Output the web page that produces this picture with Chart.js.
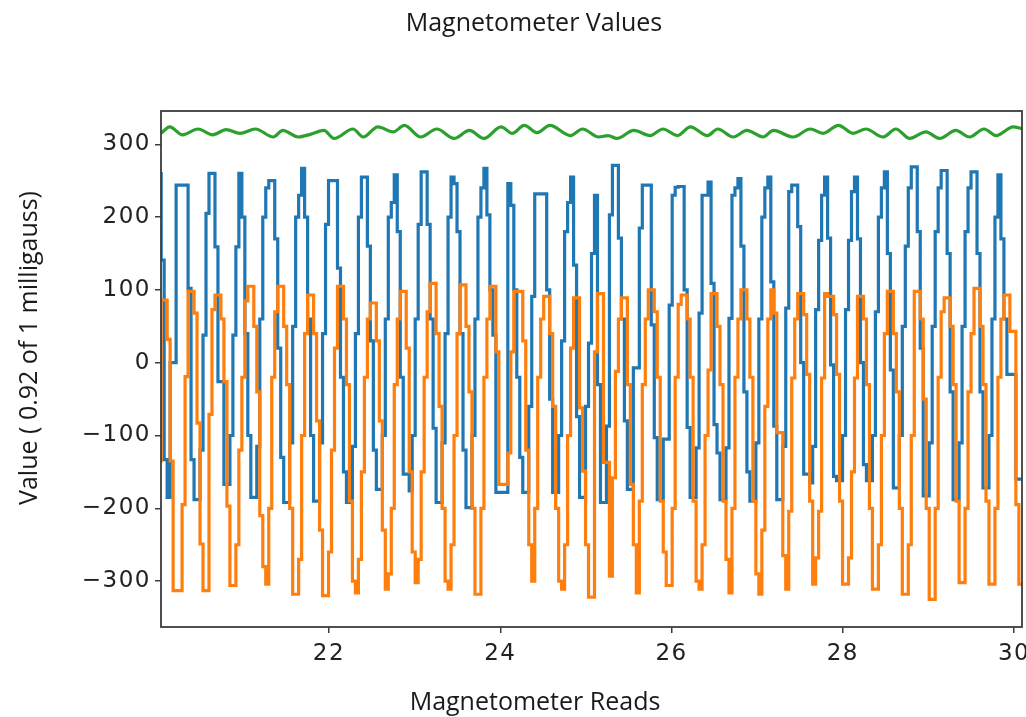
<!DOCTYPE html>
<html>
<head>
<meta charset="utf-8">
<script src="https://cdn.jsdelivr.net/npm/chart.js@4.4.1/dist/chart.umd.min.js"></script>
<style>
  html, body { margin: 0; padding: 0; background: #fff; }
</style>
</head>
<body>
<canvas id="magChart" width="1026" height="717"></canvas>
<script>
// texts
const chartTitle = 'Magnetometer Values';
const xTitle = 'Magnetometer Reads';
const yTitle = 'Value ( 0.92 of 1 milligauss)';

// axes
const xTicks = [22, 24, 26, 28, 30];
const yTicks = [-300, -200, -100, 0, 100, 200, 300];
const xMin = 20.038, xMax = 30.093;
const yMin = -363, yMax = 345.7;

// reads are evenly spaced, one row per swing (starting at the blue top)
const sampleStart = 20.04;
const sampleStep = 0.0349;

const blueCycles = [
  [262, 141, -133, -185, 0, 0, 244],
  [244, 244, 244, 102, -133, -188, -188, -120, 38, 205],
  [260, 260, 159, -26, -26, -167, -167, -100, 38, 159],
  [260, 200, 40, -100, -185, -185, -115, 60, 200, 240],
  [250, 250, 170, 20, -130, -192, -192, -110, 50, 200],
  [230, 267, 200, 60, -100, -190, -190, -110, 40, 190],
  [250, 250, 250, 130, -20, -150, -192, -192, -115, 40, 200],
  [255, 255, 160, 30, -120, -174, -174, -100, 60, 200],
  [220, 258, 180, -20, -153, -153, -176, -100, 60, 190],
  [262, 262, 190, 60, -90, -192, -192, -110, 40, 200],
  [255, 246, 180, 40, -120, -199, -199, -100, 60, 200, 240],
  [267, 203, 100, 38, -178, -178, -178, -178],
  [246, 216, 100, -20, -130, -178, -178, -60, 91, 232, 232],
  [232, 232, 100, -50, -178, -178, -100, 30, 180, 220],
  [255, 134, -74, -185, -185, -60, 27, 150],
  [230, -30, -192, -192, -87, 203, 271],
  [271, 171, 60, -80, -174, -174, -7, -7, 185, 244],
  [244, 244, 52, -103, -188, -188, -105, -105, 79, 230, 241],
  [242, 242, 100, -89, -185, -185, -117, 68, 230, 230],
  [248, 109, -85, -124, -188, -188, -117, 61, 230, 240],
  [253, 160, -40, -150, -190, -190, -110, 60, 200, 240],
  [255, 111, -87, -188, -188, -115, 75, 235, 244],
  [244, 187, 0, -153, -153, -165, -115, 73, 168, 230],
  [255, 171, -3, -156, -162, -162, -100, 73, 168, 235],
  [255, 170, 0, -140, -162, -162, -100, 70, 200, 240],
  [262, 150, -10, -172, -172, -100, 50, 160, 240, 269],
  [269, 180, 20, -183, -183, -110, 50, 180, 240, 264],
  [264, 150, -40, -188, -188, -110, 50, 180, 240],
  [262, 262, 150, -40, -172, -172, -100, 60, 200],
  [258, 170, 60, -16, -16, -16, -160, -160]
];

const orangeCycles = [
  [-137, 86, 86, 32, -135, -313, -313],
  [-313, -195, -19, 98, 98, 68, -83, -249, -313, -313],
  [-71, 73, 93, 93, 60, -26, -197, -306, -306, -250],
  [-120, -20, 85, 105, 105, 50, -40, -210, -280, -304],
  [-200, -20, 70, 105, 105, 50, -30, -200, -318, -318],
  [-270, -100, 40, 93, 93, 40, -80, -230, -320, -320],
  [-260, -120, 20, 105, 105, 60, -30, -190, -300, -316, -270],
  [-150, -20, 60, 82, 82, 30, -80, -230, -311, -290],
  [-200, -30, 60, 98, 98, 20, -150, -260, -302, -270],
  [-150, -20, 70, 109, 109, 40, -60, -200, -300, -311],
  [-250, -100, 40, 107, 107, 50, -40, -200, -318, -318, -200],
  [-20, 60, 105, 105, 15, -167, -167, -167],
  [-124, 15, 98, 98, 98, 30, -120, -250, -300, -200, -20],
  [60, 91, 91, 40, -60, -200, -300, -311, -250, -100],
  [20, 89, 89, -62, -149, -250, -322, -322],
  [15, 95, 95, -137, -137, -293, -158],
  [-12, 60, 89, 89, -30, -167, -250, -316, -190, -30],
  [60, 100, 100, 70, -20, -190, -260, -306, -306, -200, -20],
  [80, 93, 93, 60, -20, -190, -300, -311, -250, -100],
  [-10, 95, 95, 50, -30, -190, -270, -316, -200, -20],
  [60, 100, 100, 60, -20, -190, -290, -318, -230, -60],
  [60, 100, 68, -96, -96, -265, -311, -204, -21],
  [60, 95, 95, 66, -16, -190, -304, -268, -204, -21],
  [95, 91, 91, 66, -16, -190, -304, -304, -268, -150],
  [-21, 91, 91, 60, -30, -200, -311, -311, -250, -100],
  [40, 98, 98, 40, -40, -200, -318, -318, -250, -100],
  [98, 98, 60, -50, -200, -325, -325, -200, -20, 70],
  [89, 89, 50, -30, -190, -302, -302, -200, -40],
  [40, 102, 102, 50, -30, -190, -304, -304, -200],
  [-20, 60, 93, 93, 43, 43, -195, -304]
];

// green wiggle, read at its tops and bottoms
const greenX = [20.04, 20.14, 20.29, 20.47, 20.64, 20.80, 20.96, 21.14, 21.35, 21.46,
  21.64, 21.79, 21.94, 22.06, 22.28, 22.40, 22.57, 22.75, 22.88, 23.07,
  23.26, 23.46, 23.64, 23.81, 24.01, 24.14, 24.28, 24.43, 24.58, 24.82,
  24.96, 25.15, 25.26, 25.36, 25.56, 25.75, 25.90, 26.07, 26.22, 26.42,
  26.54, 26.72, 26.88, 27.07, 27.19, 27.42, 27.62, 27.77, 27.95, 28.12,
  28.27, 28.47, 28.62, 28.78, 28.97, 29.13, 29.32, 29.48, 29.65, 29.79,
  29.99, 30.10];
const greenY = [315, 324, 313, 321, 313, 320, 315, 321, 310, 319,
  310, 314, 319, 308, 321, 310, 324, 317, 326, 310,
  321, 308, 319, 308, 324, 315, 326, 316, 326, 312,
  321, 310, 312, 308, 319, 312, 321, 312, 324, 312,
  321, 310, 319, 310, 319, 310, 321, 315, 326, 315,
  321, 310, 321, 308, 317, 308, 319, 310, 321, 312,
  324, 321];

const toPoints = vals => vals.map((v, i) => ({ x: sampleStart + i * sampleStep, y: v }));
const bluePoints = toPoints(blueCycles.flat());
const orangePoints = toPoints(orangeCycles.flat());
const greenPoints = greenX.map((x, i) => ({ x: x, y: greenY[i] }));

const frameAndTitles = {
  id: 'frameAndTitles',
  beforeDraw(chart) {
    const ctx = chart.ctx;
    ctx.fillStyle = '#fff';
    ctx.fillRect(0, 0, chart.width, chart.height);
    ctx.letterSpacing = '1.5px';
  },
  afterDraw(chart) {
    const ctx = chart.ctx;
    const a = chart.chartArea;
    ctx.save();
    ctx.letterSpacing = '0px';
    ctx.strokeStyle = '#3c3c3c';
    ctx.lineWidth = 1.8;
    ctx.strokeRect(a.left, a.top, a.right - a.left, a.bottom - a.top);
    ctx.fillStyle = '#1a1a1a';
    ctx.font = '25px "Open Sans"';
    ctx.textAlign = 'center';
    ctx.textBaseline = 'alphabetic';
    ctx.fillText(chartTitle, 534, 31);
    ctx.fillText(xTitle, 535, 710);
    ctx.translate(37, 348);
    ctx.rotate(-Math.PI / 2);
    ctx.fillText(yTitle, 0, 0);
    ctx.restore();
  }
};

var ctx = document.getElementById('magChart').getContext('2d');
new Chart(ctx, {
  type: 'line',
  data: {
    datasets: [
      {
        label: 'x',
        data: bluePoints,
        borderColor: '#1f77b4',
        borderWidth: 3.2,
        stepped: 'after',
        pointRadius: 0,
        fill: false,
        order: 2
      },
      {
        label: 'y',
        data: orangePoints,
        borderColor: '#ff7f0e',
        borderWidth: 3.2,
        stepped: 'after',
        pointRadius: 0,
        fill: false,
        order: 1
      },
      {
        label: 'z',
        data: greenPoints,
        borderColor: '#2ca02c',
        borderWidth: 3.2,
        tension: 0.4,
        cubicInterpolationMode: 'monotone',
        pointRadius: 0,
        fill: false,
        order: 0
      }
    ]
  },
  options: {
    responsive: false,
    devicePixelRatio: 1,
    animation: false,
    events: [],
    layout: { padding: { left: 0, right: 4, top: 111, bottom: 0 } },
    plugins: {
      legend: { display: false },
      tooltip: { enabled: false },
      title: { display: false }
    },
    scales: {
      x: {
        type: 'linear',
        min: xMin,
        max: xMax,
        afterBuildTicks: s => { s.ticks = xTicks.map(v => ({ value: v })); },
        afterFit: s => { s.height = 90; s.paddingLeft = 0; s.paddingRight = 0; },
        border: { display: false },
        grid: { drawOnChartArea: false, drawTicks: true, tickLength: 6, color: '#3c3c3c', lineWidth: 1.5 },
        ticks: {
          color: '#222',
          font: { family: 'DejaVu Sans', size: 23 },
          padding: 7,
          maxRotation: 0,
          autoSkip: false
        }
      },
      y: {
        min: yMin,
        max: yMax,
        afterBuildTicks: s => { s.ticks = yTicks.map(v => ({ value: v })); },
        afterFit: s => { s.width = 161; s.paddingTop = 0; s.paddingBottom = 0; },
        border: { display: false },
        grid: { drawOnChartArea: false, drawTicks: true, tickLength: 6, color: '#3c3c3c', lineWidth: 1.5 },
        ticks: {
          color: '#222',
          font: { family: 'DejaVu Sans', size: 23 },
          padding: 4,
          callback: v => (v < 0 ? '\u2212' + Math.abs(v) : String(v))
        }
      }
    }
  },
  plugins: [frameAndTitles]
});
</script>
</body>
</html>
